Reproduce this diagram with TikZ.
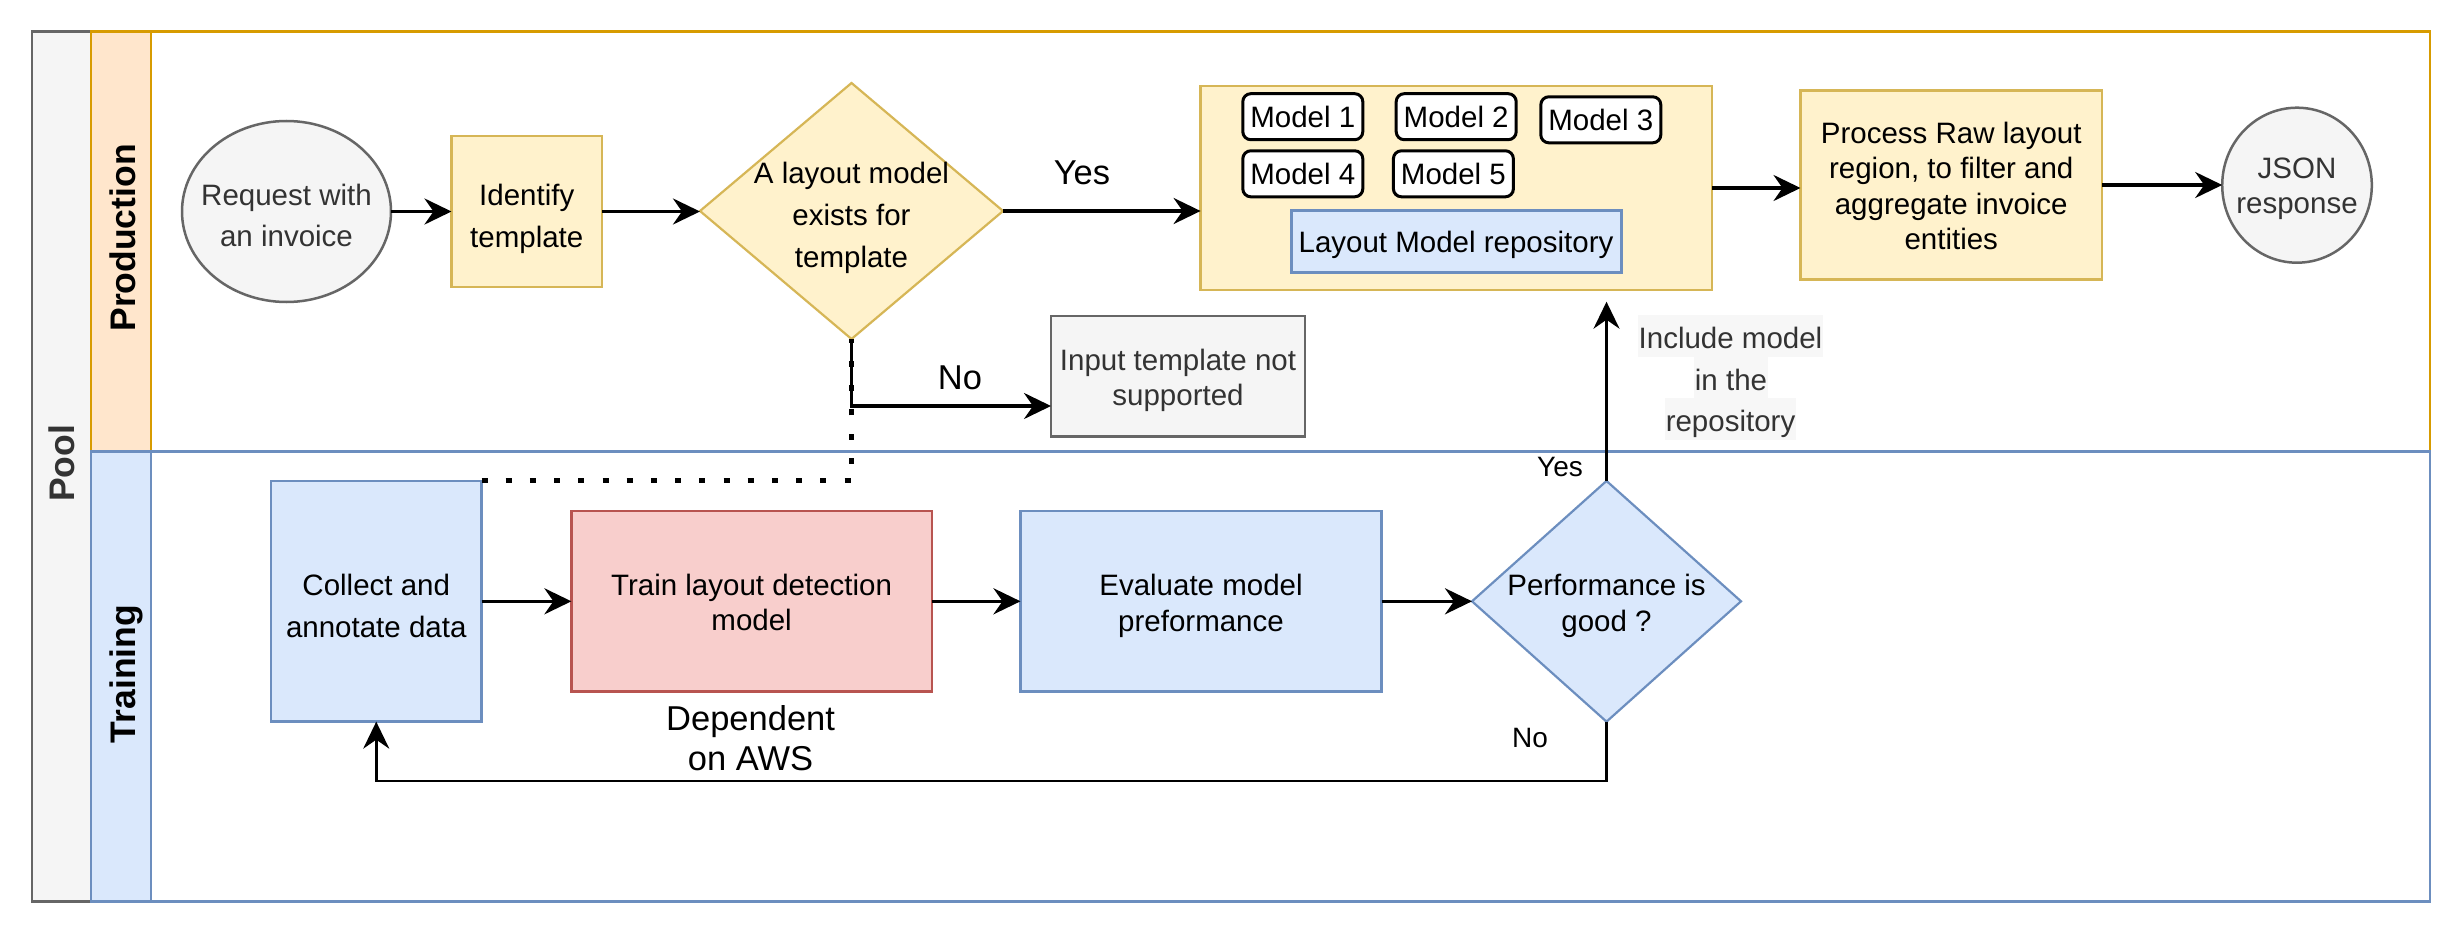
\documentclass[tikz,border=0pt]{standalone}
\usepackage{fontspec}
\setmainfont{Liberation Sans}
\usetikzlibrary{shapes.geometric,arrows.meta}
\definecolor{poolfill}{HTML}{F5F5F5}
\definecolor{poolline}{HTML}{666666}
\definecolor{txtgray}{HTML}{333333}
\definecolor{prodfill}{HTML}{FFE6CC}
\definecolor{prodline}{HTML}{D79B00}
\definecolor{bluefill}{HTML}{DAE8FC}
\definecolor{blueline}{HTML}{6C8EBF}
\definecolor{yelfill}{HTML}{FFF2CC}
\definecolor{yelline}{HTML}{D6B656}
\definecolor{redfill}{HTML}{F8CECC}
\definecolor{redline}{HTML}{B85450}
\definecolor{lblbg}{HTML}{F7F7F7}
\begin{document}
\begin{tikzpicture}[x=1pt,y=-1pt]
\tikzset{
 shp/.style={inner sep=0pt, outer sep=0pt, align=center, font=\fontsize{29.5pt}{41.7pt}\selectfont},
 tight/.style={font=\fontsize{29.5pt}{35.5pt}\selectfont},
 ybox/.style={shp, rectangle, draw=yelline, fill=yelfill, line width=2.5pt},
 bbox/.style={shp, rectangle, draw=blueline, fill=bluefill, line width=2.5pt},
 rbox/.style={shp, rectangle, draw=redline, fill=redfill, line width=2.5pt},
 gbox/.style={shp, draw=poolline, fill=poolfill, line width=2.5pt},
 mbox/.style={shp, rectangle, draw=black, fill=white, line width=3pt, rounded corners=8pt, minimum width=120pt, minimum height=46pt, text depth=0pt},
 lanelbl/.style={font=\fontsize{35.5pt}{40pt}\selectfont\bfseries, rotate=90, inner sep=0pt, text height=25.4pt, text depth=0pt},
 arr/.style={line width=3.5pt, -{Stealth[length=27pt,width=26pt,inset=9pt]}},
 arrthin/.style={line width=2.7pt, -{Stealth[length=27pt,width=26pt,inset=9pt]}},
 dotline/.style={line width=5pt, dash pattern=on 6pt off 18.2pt},
 biglbl/.style={inner sep=0pt, align=center, font=\fontsize{34.5pt}{40pt}\selectfont, text depth=0pt},
 smalllbl/.style={inner sep=0pt, font=\fontsize{28pt}{34pt}\selectfont, text depth=0pt},
 incl/.style={inner xsep=1pt, inner ysep=0pt, fill=lblbg, text=txtgray, minimum height=41.7pt, text height=30.4pt, text depth=4.6pt, font=\fontsize{29.5pt}{41.7pt}\selectfont},
}
\useasboundingbox (0,0) rectangle (2463,936);
\fill[white] (0,0) rectangle (2463,936);
% pool and lanes
\filldraw[fill=poolfill, draw=poolline, line width=2.5pt] (32,31.7) rectangle (91,901.7);
\draw[poolline, line width=2.5pt] (32,31.7) rectangle (2430,901.7);
\filldraw[fill=prodfill, draw=prodline, line width=2.5pt] (91,31.7) rectangle (151,451.7);
\draw[prodline, line width=2.5pt] (91,31.7) rectangle (2430,451.7);
\filldraw[fill=bluefill, draw=blueline, line width=2.5pt] (91,451.7) rectangle (151,901.7);
\draw[blueline, line width=2.5pt] (91,451.7) rectangle (2430,901.7);
\node[lanelbl, text=txtgray] (poollbl) at (61.5,463.5) {Pool};
\node[lanelbl] (prodlbl) at (122.5,238) {Production};
\node[lanelbl] (trnlbl) at (122.5,674) {Training};

% production lane
\node[gbox, ellipse, minimum width=209pt, minimum height=181pt] (req) at (286.5,211.5) {};
\node[shp, text=txtgray] (reqt) at (286.5,215.5) {Request with\\an invoice};
\node[ybox, minimum width=150.5pt, minimum height=151pt] (ident) at (526.75,211.5) {};
\node[shp] (identt) at (526.75,219) {Identify\\template};
\node[shp, diamond, draw=yelline, fill=yelfill, line width=2.2pt, minimum width=303pt, minimum height=256pt] (dec) at (851.5,211) {};
\node[shp] (dect) at (851.5,218) {A layout model\\exists for\\template};

\node[ybox, minimum width=511.4pt, minimum height=204pt] (repo) at (1456.3,188) {};
\node[mbox] (m1) at (1302.8,116.7) {Model 1};
\node[mbox] (m2) at (1456.2,116.7) {Model 2};
\node[mbox] (m3) at (1600.8,119.8) {Model 3};
\node[mbox] (m4) at (1302.8,173.8) {Model 4};
\node[mbox] (m5) at (1453.4,173.8) {Model 5};
\node[bbox, line width=3pt, minimum width=330pt, minimum height=61.6pt, text depth=0pt] (lmr) at (1456,241.5) {Layout Model repository};

\node[ybox, minimum width=301.5pt, minimum height=188.6pt] (proc) at (1951.25,185) {};
\node[shp, tight] (proct) at (1951.25,186) {Process Raw layout\\region, to filter and\\aggregate invoice\\entities};
\node[gbox, ellipse, minimum width=149.6pt, minimum height=155pt] (json) at (2297,185.2) {};
\node[shp, tight, text=txtgray] (jsont) at (2297,189) {JSON\\response};

\node[gbox, rectangle, minimum width=254pt, minimum height=120.7pt] (inp) at (1178,376.3) {};
\node[shp, tight, text=txtgray] (inpt) at (1178,380.5) {Input template not\\supported};

% training lane
\node[bbox, minimum width=210.5pt, minimum height=240.7pt] (col) at (376.25,601.3) {};
\node[shp] (colt) at (376.25,606) {Collect and\\annotate data};
\node[rbox, minimum width=360.4pt, minimum height=180.7pt] (trn) at (751.6,601.3) {};
\node[shp, tight] (trnt) at (751.6,602.5) {Train layout detection\\model};
\node[bbox, minimum width=361pt, minimum height=180.7pt] (evl) at (1201,601.3) {};
\node[shp, tight] (evlt) at (1201,606) {Evaluate model\\preformance};
\node[shp, diamond, draw=blueline, fill=bluefill, line width=2.2pt, minimum width=269pt, minimum height=240.7pt] (perf) at (1606.5,601.3) {};
\node[shp, tight] (perft) at (1606.5,606) {Performance is\\good ?};

% labels
\node[biglbl] (yes1) at (1082,173) {Yes};
\node[biglbl] (no1) at (960,378) {No};
\node[biglbl] (dep) at (750.6,738) {Dependent\\on AWS};
\node[smalllbl] (yes2) at (1560,467) {Yes};
\node[smalllbl] (no2) at (1530,738) {No};
\node[incl] (inc1) at (1730.5,336) {Include model};
\node[incl] (inc2) at (1731,377.5) {in the};
\node[incl] (inc3) at (1730.5,419) {repository};

% connectors
\draw[arr] (req.east) -- (ident.west);
\draw[arr] (ident.east) -- (ident.east -| dec.west);
\draw[arr] (dec.east) -- (dec.east -| repo.west);
\draw[arr] (repo.east) -- (repo.east -| proc.west);
\draw[arr] (proc.east) -- (proc.east -| json.west);
\draw[arr] (dec.south) |- ([yshift=-29.7pt]inp.west);
\draw[arr] (col.east) -- (col.east -| trn.west);
\draw[arr] (trn.east) -- (trn.east -| evl.west);
\draw[arr] (evl.east) -- (evl.east -| perf.west);
\coordinate (incend) at (1606.5,301.7);
\draw[arrthin] (perf.north) -- (incend);
\draw[arrthin] (perf.south) -- ++(0,59.3) -| (col.south);
\draw[dotline] (col.north east) -- (col.north east -| dec.south) -- (dec.south);
\end{tikzpicture}
\end{document}
